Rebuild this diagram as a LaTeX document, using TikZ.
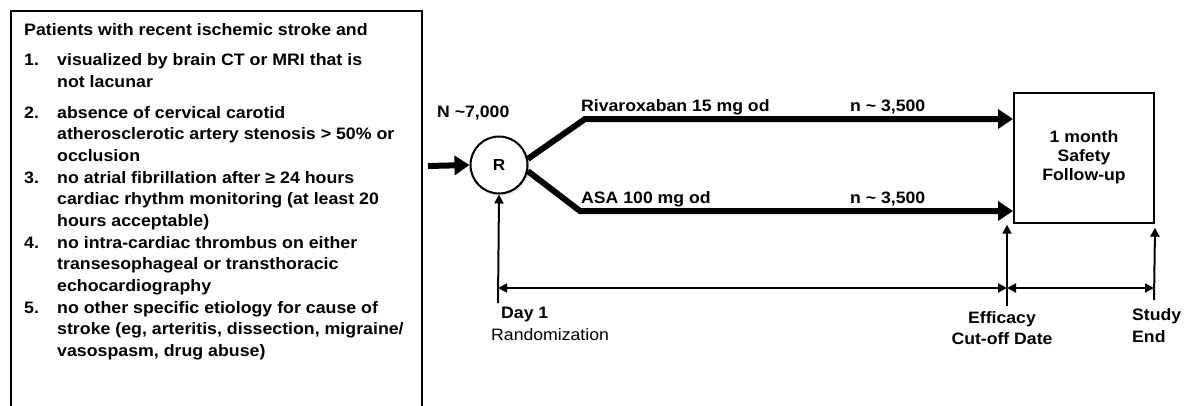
\documentclass[tikz,border=0pt]{standalone}
\usepackage{fontspec}
\setmainfont{Liberation Sans}[FakeStretch=1.07]
\usetikzlibrary{arrows.meta,shadows}

\tikzset{
  listtext/.style={font=\bfseries\fontsize{16.6}{21.7}\selectfont, inner sep=0pt, align=left, anchor=base west},
  armtext/.style={font=\bfseries\fontsize{16.5}{19}\selectfont, inner sep=0pt, anchor=base west},
  bigarrow/.style={line width=6pt, line join=miter, -{Triangle[length=15pt,width=19pt]}},
  smallarrow/.style={line width=2pt, -{Triangle[length=9pt,width=9pt]}},
  bothsmall/.style={line width=2pt, {Triangle[length=9pt,width=9pt]}-{Triangle[length=9pt,width=9pt]}}
}

\begin{document}
\begin{tikzpicture}[x=1pt, y=-1pt]

    \useasboundingbox (0,0) rectangle (1185,405);
    \clip (0,0) rectangle (1185,405);

    % inclusion criteria
    \draw[line width=2pt] (11,11) rectangle (422,420);
    \node[listtext] (title) at (24,35) {Patients with recent ischemic stroke and};
    \node[listtext] (num1) at (24,65) {1.};
    \node[listtext] (item1) at (57,87) {visualized by brain CT or MRI that is\\not lacunar};
    \node[listtext] (num2) at (24,118) {2.};
    \node[listtext] (item2) at (57,161.5) {absence of cervical carotid\\atherosclerotic artery stenosis > 50\% or\\occlusion};
    \node[listtext] (num3) at (24,183) {3.};
    \node[listtext] (item3) at (57,226.5) {no atrial fibrillation after ≥ 24 hours\\cardiac rhythm monitoring (at least 20\\hours acceptable)};
    \node[listtext] (num4) at (24,248) {4.};
    \node[listtext] (item4) at (57,291.5) {no intra-cardiac thrombus on either\\transesophageal or transthoracic\\echocardiography};
    \node[listtext] (num5) at (24,313) {5.};
    \node[listtext] (item5) at (57,356.5) {no other specific etiology for cause of\\stroke (eg, arteritis, dissection, migraine/\\vasospasm, drug abuse)};

    % randomization
    \coordinate (In) at (428,166);
    \coordinate (UpperKnee) at (585,119);
    \coordinate (LowerKnee) at (580,211);
    \node[circle, draw, line width=2pt, fill=white, minimum size=57pt, inner sep=0pt,
          font=\bfseries\fontsize{16}{19}\selectfont,
          drop shadow={shadow xshift=2pt, shadow yshift=-2pt, opacity=0.25}] (R) at (499,165) {R};
    \node[armtext] (total) at (437,117) {N \textasciitilde7,000};

    \node[draw, line width=2pt, minimum width=140pt, minimum height=130pt, align=center,
          font=\bfseries\fontsize{16.5}{19}\selectfont] (followup) at (1084,157.7) {1 month\\Safety\\Follow-up};

    \draw[bigarrow] (In) -- (R.west);
    \draw[bigarrow] (R.12) -- (UpperKnee) -- (UpperKnee -| followup.west);
    \draw[bigarrow] (R.-12) -- (LowerKnee) -- (LowerKnee -| followup.west);

    \node[armtext] (rivaroxaban) at (581,111) {Rivaroxaban 15 mg od};
    \node[armtext] (nrivaroxaban) at (850,111) {n \textasciitilde{} 3,500};
    \node[armtext] (asa) at (581,203) {ASA 100 mg od};
    \node[armtext] (nasa) at (850,203) {n \textasciitilde{} 3,500};

    % time line
    \coordinate (DayOne) at (498,303);
    \coordinate (CutOff) at (1007,306);
    \coordinate (StudyEnd) at (1154,300);
    \coordinate (LineStart) at (498,288);
    \coordinate (LineMid) at (1007,288);
    \coordinate (LineEnd) at (1154,288);

    \draw[smallarrow] (DayOne) -- (R.south);
    \draw[smallarrow] (CutOff) -- ([yshift=-1pt]CutOff |- followup.south);
    \draw[smallarrow] (StudyEnd) -- ([yshift=-4pt]followup.south east);
    \draw[bothsmall] (LineStart) -- (LineMid);
    \draw[bothsmall] (LineMid) -- (LineEnd);

    \node[armtext] (day1) at (501,318) {Day 1};
    \node[inner sep=0pt, anchor=base west, font=\fontsize{16.5}{19}\selectfont] (randomization) at (491,340) {Randomization};
    \node[armtext, anchor=base] (efficacy) at (1002,323) {Efficacy};
    \node[armtext, anchor=base] (cutoffdate) at (1002,344) {Cut-off Date};
    \node[armtext] (study) at (1132,320) {Study};
    \node[armtext] (theend) at (1132,342) {End};
\end{tikzpicture}
\end{document}
